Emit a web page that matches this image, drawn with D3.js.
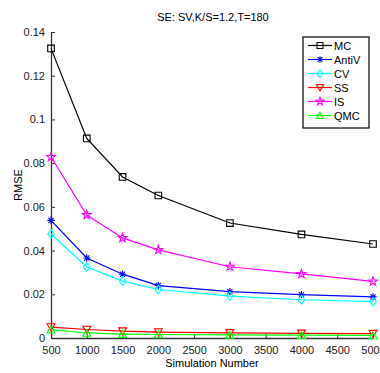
<!DOCTYPE html>
<html>
<head>
<meta charset="utf-8">
<script src="https://cdn.jsdelivr.net/npm/d3@7"></script>
<style>
  body { margin: 0; background: #fff; }
  svg { display: block; font-family: "Liberation Sans", Arial, sans-serif; }
</style>
</head>
<body>
<div id="chart"></div>
<script>
const simNumbers = [500, 1000, 1500, 2000, 3000, 4000, 5000];
const mcValues = [0.1325, 0.0913, 0.0737, 0.0652, 0.0526, 0.0474, 0.0430];
const antivValues = [0.0538, 0.0366, 0.0292, 0.0240, 0.0212, 0.0198, 0.0188];
const cvValues = [0.0476, 0.0325, 0.0260, 0.0222, 0.0192, 0.0175, 0.0166];
const ssValues = [0.0050, 0.0039, 0.0031, 0.0027, 0.0023, 0.0021, 0.0020];
const isValues = [0.0828, 0.0563, 0.0458, 0.0403, 0.0326, 0.0293, 0.0259];
const qmcValues = [0.0038, 0.0023, 0.0018, 0.0016, 0.0014, 0.0013, 0.0012];
const xTicks = [500, 1000, 1500, 2000, 2500, 3000, 3500, 4000, 4500, 5000];
const yTicks = [0, 0.02, 0.04, 0.06, 0.08, 0.1, 0.12, 0.14];

const series = [
  { name: 'MC', values: mcValues, color: '#000000', marker: 'square' },
  { name: 'AntiV', values: antivValues, color: '#0000ff', marker: 'asterisk' },
  { name: 'CV', values: cvValues, color: '#00ffff', marker: 'diamond' },
  { name: 'SS', values: ssValues, color: '#ff0000', marker: 'tridown' },
  { name: 'IS', values: isValues, color: '#ff00ff', marker: 'star' },
  { name: 'QMC', values: qmcValues, color: '#00ff00', marker: 'triup' }
];

const W = 380, H = 373;
const margin = { top: 32, right: 7, bottom: 35, left: 51 };
const width = W - margin.left - margin.right;
const height = H - margin.top - margin.bottom;

const svg = d3.select('#chart').append('svg')
  .attr('width', W).attr('height', H);

const g = svg.append('g')
  .attr('transform', `translate(${margin.left},${margin.top})`);

const x = d3.scaleLinear().domain([500, 5000]).range([0, width]);
const y = d3.scaleLinear().domain([0, 0.14]).range([height, 0]);

// axes, ticks pointing inward like matlab
g.append('g')
  .attr('transform', `translate(0,${height})`)
  .call(d3.axisBottom(x).tickValues(xTicks).tickSize(-4).tickPadding(8).tickFormat(d3.format('d')).tickSizeOuter(0))
  .call(a => a.select('.domain').attr('stroke', '#333').attr('stroke-width', 1.3))
  .call(a => a.selectAll('.tick line').attr('stroke', '#333'))
  .call(a => a.selectAll('.tick text').attr('fill', '#222').style('font-size', '11px'));

g.append('g')
  .call(d3.axisLeft(y).tickValues(yTicks).tickSize(-4).tickPadding(6).tickFormat(d => d === 0 ? '0' : String(+d.toFixed(2))).tickSizeOuter(0))
  .call(a => a.select('.domain').attr('stroke', '#333').attr('stroke-width', 1.3))
  .call(a => a.selectAll('.tick line').attr('stroke', '#333'))
  .call(a => a.selectAll('.tick text').attr('fill', '#222').style('font-size', '11px'));

function markerPath(type, s) {
  if (type === 'square') return `M${-s},${-s}H${s}V${s}H${-s}Z`;
  if (type === 'diamond') return `M0,${-s * 1.3}L${s},0L0,${s * 1.3}L${-s},0Z`;
  if (type === 'tridown') return `M${-s * 1.2},${-s}H${s * 1.2}L0,${s * 1.1}Z`;
  if (type === 'triup') return `M${-s * 1.2},${s}H${s * 1.2}L0,${-s * 1.1}Z`;
  if (type === 'asterisk') {
    const r = s * 1.1, d = r * 0.72;
    return `M0,${-r}V${r}M${-r},0H${r}M${-d},${-d}L${d},${d}M${-d},${d}L${d},${-d}`;
  }
  if (type === 'star') {
    const pts = [];
    for (let i = 0; i < 10; i++) {
      const rr = i % 2 === 0 ? s * 1.4 : s * 0.55;
      const a = -Math.PI / 2 + i * Math.PI / 5;
      pts.push([rr * Math.cos(a), rr * Math.sin(a)]);
    }
    return 'M' + pts.map(p => p.join(',')).join('L') + 'Z';
  }
}

const line = d3.line()
  .x((d, i) => x(simNumbers[i]))
  .y(d => y(d));

series.forEach(s => {
  g.append('path')
    .datum(s.values)
    .attr('fill', 'none')
    .attr('stroke', s.color)
    .attr('stroke-width', 1.2)
    .attr('d', line);

  g.selectAll(null)
    .data(s.values)
    .enter()
    .append('path')
    .attr('transform', (d, i) => `translate(${x(simNumbers[i])},${y(d)})`)
    .attr('d', markerPath(s.marker, 3.3))
    .attr('fill', 'none')
    .attr('stroke', s.color)
    .attr('stroke-width', 1.1);
});

// title and labels
svg.append('text')
  .attr('x', 213).attr('y', 21)
  .attr('text-anchor', 'middle')
  .style('font-size', '11px')
  .text('SE: SV,K/S=1.2,T=180');

svg.append('text')
  .attr('x', margin.left + width / 2).attr('y', H - 6)
  .attr('text-anchor', 'middle')
  .style('font-size', '11px')
  .text('Simulation Number');

svg.append('text')
  .attr('transform', `translate(22,${margin.top + height / 2}) rotate(-90)`)
  .attr('text-anchor', 'middle')
  .style('font-size', '11px')
  .text('RMSE');

// legend
const legend = svg.append('g').attr('transform', 'translate(303,37)');
legend.append('rect')
  .attr('width', 66).attr('height', 91)
  .attr('fill', '#fff')
  .attr('stroke', '#000')
  .attr('stroke-width', 1.2);

series.forEach((s, i) => {
  const ly = 8.5 + i * 14;
  legend.append('line')
    .attr('x1', 5).attr('x2', 29)
    .attr('y1', ly).attr('y2', ly)
    .attr('stroke', s.color).attr('stroke-width', 1.2);
  legend.append('path')
    .attr('transform', `translate(17,${ly})`)
    .attr('d', markerPath(s.marker, 3))
    .attr('fill', 'none')
    .attr('stroke', s.color)
    .attr('stroke-width', 1.1);
  legend.append('text')
    .attr('x', 31).attr('y', ly + 4)
    .style('font-size', '11px')
    .text(s.name);
});
</script>
</body>
</html>
